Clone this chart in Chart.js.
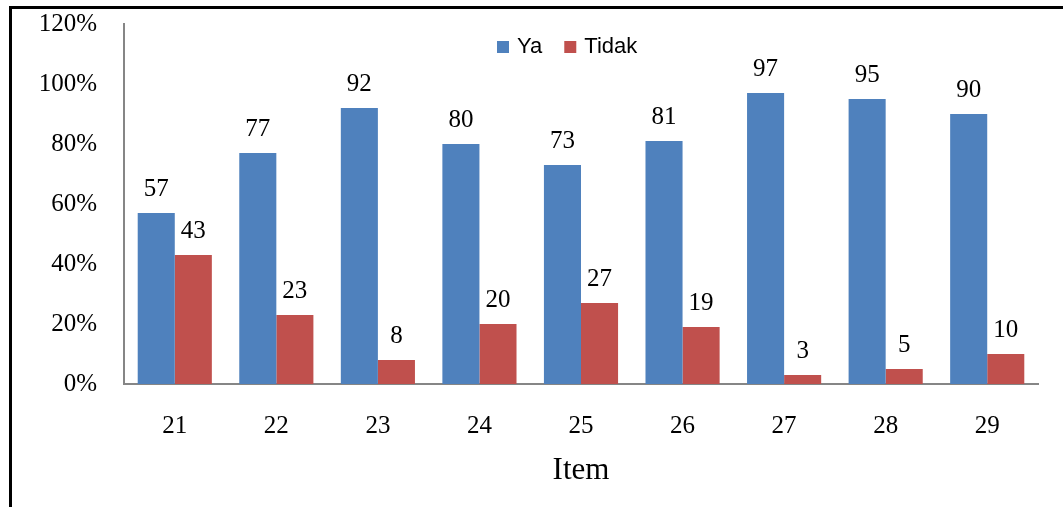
<!DOCTYPE html>
<html>
<head>
<meta charset="utf-8">
<script src="https://cdn.jsdelivr.net/npm/chart.js@4.4.0/dist/chart.umd.min.js"></script>
<style>
    html, body { margin: 0; padding: 0; background: #ffffff; }
    #wrap { position: relative; width: 1063px; height: 507px; overflow: hidden; }
    #frame {
        position: absolute; left: 9px; top: 6px; right: -10px; bottom: -10px;
        border-left: 3px solid #000; border-top: 3px solid #000;
    }
    canvas { position: absolute; left: 0; top: 0; }
</style>
</head>
<body>
<div id="wrap">
    <div id="frame"></div>
    <canvas id="chart" width="1063" height="507"></canvas>
</div>
<script>
// Data
const items = ['21', '22', '23', '24', '25', '26', '27', '28', '29'];
const yaValues = [57, 77, 92, 80, 73, 81, 97, 95, 90];
const tidakValues = [43, 23, 8, 20, 27, 19, 3, 5, 10];
const seriesNames = ['Ya', 'Tidak'];
const seriesColors = ['#4f81bd', '#c0504d'];

const serif = '"Liberation Serif", "Times New Roman", serif';
const sans = '"Liberation Sans", Arial, sans-serif';

// value labels above each bar
const valueLabels = {
    id: 'valueLabels',
    afterDatasetsDraw(chart) {
        const ctx = chart.ctx;
        ctx.save();
        ctx.font = '25px ' + serif;
        ctx.fillStyle = '#000';
        ctx.textAlign = 'center';
        ctx.textBaseline = 'bottom';
        chart.data.datasets.forEach((ds, i) => {
            const meta = chart.getDatasetMeta(i);
            meta.data.forEach((bar, j) => {
                ctx.fillText(String(ds.data[j]), bar.x, bar.y - 11);
            });
        });
        ctx.restore();
    },
};

// legend drawn inside the plot area
const innerLegend = {
    id: 'innerLegend',
    afterDraw(chart) {
        const ctx = chart.ctx;
        ctx.save();
        ctx.font = '22px ' + sans;
        ctx.textBaseline = 'middle';
        let x = 497;
        const y = 47;
        seriesNames.forEach((name, i) => {
            ctx.fillStyle = seriesColors[i];
            ctx.fillRect(x, y - 6, 12, 12);
            ctx.fillStyle = '#000';
            ctx.textAlign = 'left';
            ctx.fillText(name, x + 20, y);
            x += 20 + ctx.measureText(name).width + 22;
        });
        ctx.restore();
    },
};

new Chart(document.getElementById('chart'), {
    type: 'bar',
    data: {
        labels: items,
        datasets: [
            {
                label: seriesNames[0],
                data: yaValues,
                backgroundColor: seriesColors[0],
                categoryPercentage: 0.73,
                barPercentage: 1.0,
            },
            {
                label: seriesNames[1],
                data: tidakValues,
                backgroundColor: seriesColors[1],
                categoryPercentage: 0.73,
                barPercentage: 1.0,
            },
        ],
    },
    options: {
        responsive: false,
        animation: false,
        layout: {
            padding: { top: 24, right: 25, left: 0, bottom: 0 },
        },
        plugins: {
            legend: { display: false },
            tooltip: { enabled: false },
        },
        scales: {
            x: {
                grid: { display: false, drawTicks: false },
                border: { display: true, color: '#868686', width: 2 },
                ticks: {
                    color: '#000',
                    font: { family: serif, size: 25 },
                    padding: 27,
                },
                title: {
                    display: true,
                    text: 'Item',
                    color: '#000',
                    font: { family: serif, size: 31 },
                    padding: { top: 8, bottom: 18 },
                },
                afterFit(scale) {
                    scale.height = 123;
                    scale.paddingLeft = 0;
                    scale.paddingRight = 0;
                },
            },
            y: {
                min: 0,
                max: 120,
                grid: { display: false, drawTicks: false },
                border: { display: true, color: '#868686', width: 2 },
                ticks: {
                    stepSize: 20,
                    color: '#000',
                    font: { family: serif, size: 25 },
                    padding: 27,
                    callback: (v) => v + '%',
                },
                afterFit(scale) {
                    scale.width = 124;
                    scale.paddingTop = 0;
                    scale.paddingBottom = 0;
                },
            },
        },
    },
    plugins: [valueLabels, innerLegend],
});
</script>
</body>
</html>
